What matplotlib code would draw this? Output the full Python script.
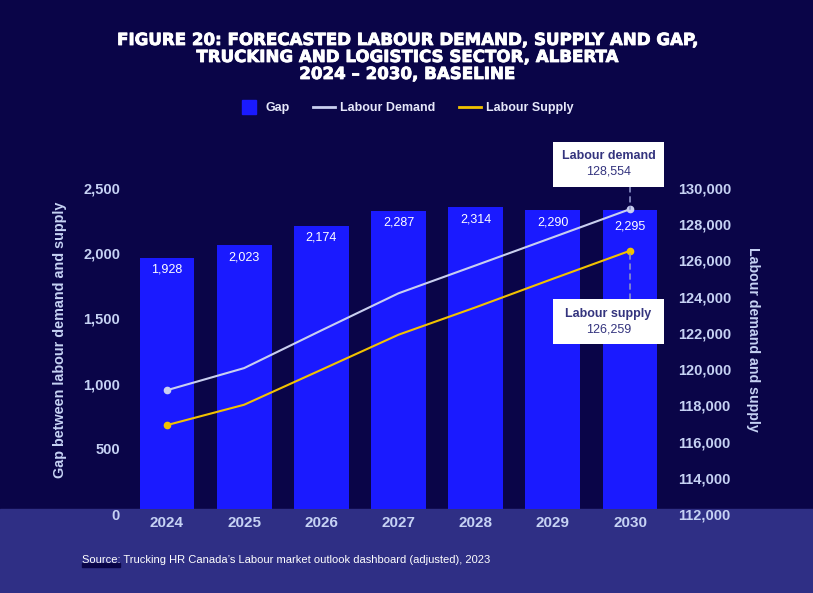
import matplotlib
matplotlib.use('Agg')
import matplotlib.pyplot as plt
import matplotlib.patheffects as pe
import numpy as np
from matplotlib.lines import Line2D
from matplotlib.patches import Rectangle
from matplotlib.transforms import ScaledTranslation, Affine2D

plt.rcParams['font.family'] = ['Liberation Sans', 'DejaVu Sans']

# data
years = ['2024', '2025', '2026', '2027', '2028', '2029', '2030']
gap = [1928, 2023, 2174, 2287, 2314, 2290, 2295]
demand = [118560, 119780, 121860, 123910, 125450, 127000, 128554]
supply = [116632, 117757, 119686, 121623, 123136, 124710, 126259]
gap_ticks = [0, 500, 1000, 1500, 2000, 2500]
ds_ticks = list(range(112000, 130001, 2000))

BG = '#0a0548'
BAND = '#2f2f85'
BAR = '#1a1aff'
DEM = '#c9cff0'
SUP = '#f2c200'
TICK = '#c6d2f4'
BOXTXT = '#34347e'

W, H = 813, 593
fig = plt.figure(figsize=(W / 100, H / 100), dpi=100, facecolor=BG)

# lighter band along the bottom
fig.add_artist(Rectangle((0, 0), 1, 1 - 509 / H, transform=fig.transFigure,
                         color=BAND, zorder=-10))

ax = fig.add_axes([128.4 / W, 1 - 509 / H, (668.6 - 128.4) / W, (509 - 183) / H])
ax.set_facecolor('none')
x = np.arange(len(years))

ax.bar(x, gap, width=0.71, color=BAR, zorder=1)
ax.set_xlim(-0.5, 6.5)
ax.set_ylim(0, 2500)
for i, v in enumerate(gap):
    off = -17 if i == len(gap) - 1 else -12
    ax.annotate(f'{v:,}', (i, v), xytext=(0, off), textcoords='offset pixels',
                ha='center', va='center', color='white', fontsize=9)

ax2 = ax.twinx()
ax2.set_ylim(112000, 130000)
ax2.plot(x, demand, color=DEM, lw=1.5, marker='o', ms=4.5, markevery=[0, len(x) - 1], zorder=3)
ax2.plot(x, supply, color=SUP, lw=1.5, marker='o', ms=4.5, markevery=[0, len(x) - 1], zorder=3)

for a in (ax, ax2):
    for s in a.spines.values():
        s.set_visible(False)
    a.tick_params(length=0, colors=TICK, labelsize=10.5)

ax.set_xticks(x)
ax.set_xticklabels(years, fontweight='bold', fontsize=11)
ax.tick_params(axis='x', pad=5)
ax.set_yticks(gap_ticks)
ax.set_yticklabels([f'{t:,}' for t in gap_ticks], fontweight='bold')
ax.tick_params(axis='y', pad=6)
ax2.set_yticks(ds_ticks)
ax2.set_yticklabels([f'{t:,}' for t in ds_ticks], fontweight='bold')
ax2.tick_params(axis='y', pad=6.5)

# the y tick labels sit a few pixels under their gridline position
shift = ScaledTranslation(0, -5 / 100, fig.dpi_scale_trans)
for lbl in ax.get_yticklabels() + ax2.get_yticklabels():
    lbl.set_transform(lbl.get_transform() + shift)

fig.text(60 / W, 1 - 340 / H, 'Gap between labour demand and supply', rotation=90,
         ha='center', va='center', color=TICK, fontsize=10.4, fontweight='bold')
fig.text(753 / W, 1 - 339 / H, 'Labour demand and supply', rotation=-90,
         ha='center', va='center', color=TICK, fontsize=10.2, fontweight='bold')


# callouts for the 2030 values (offsets in pixels from the marker)
def callout(name, val, box_dy, title_dy, num_dy, line_end):
    anchor = ScaledTranslation(x[-1], val, ax2.transData)
    bw, bh = 111.6, 45
    rect = Rectangle((-21.5 - bw / 2, box_dy - bh / 2), bw, bh, facecolor='white',
                     edgecolor='none', transform=Affine2D() + anchor, zorder=5)
    rect.set_clip_on(False)
    ax2.add_artist(rect)
    ax2.annotate('', xy=(x[-1], val), xytext=(0, line_end), textcoords='offset pixels',
                 arrowprops=dict(arrowstyle='-', color='#8c92c8', lw=1.2,
                                 linestyle=(0, (3, 3)), shrinkA=0, shrinkB=0))
    ax2.annotate(name, (x[-1], val), xytext=(-21.5, title_dy), textcoords='offset pixels',
                 ha='center', va='center', color=BOXTXT, fontsize=9, fontweight='bold',
                 zorder=6, annotation_clip=False)
    ax2.annotate(f'{val:,}', (x[-1], val), xytext=(-21.5, num_dy), textcoords='offset pixels',
                 ha='center', va='center', color=BOXTXT, fontsize=9,
                 zorder=6, annotation_clip=False)


callout('Labour demand', demand[-1], 44.8, 53.3, 38, 22.3)
callout('Labour supply', supply[-1], -70.8, -63.3, -78.3, -48.3)

handles = [Line2D([], [], marker='s', color=BAR, linestyle='none', markersize=10),
           Line2D([], [], color=DEM, lw=2),
           Line2D([], [], color=SUP, lw=2)]
fig.legend(handles, ['Gap', 'Labour Demand', 'Labour Supply'], loc='center',
           bbox_to_anchor=(406 / W, 1 - 108 / H), ncol=3, frameon=False,
           prop={'size': 9, 'weight': 'bold'}, handlelength=1.76, handletextpad=0.4,
           columnspacing=1.9, labelcolor='#e6e8fa')

title = ['FIGURE 20: FORECASTED LABOUR DEMAND, SUPPLY AND GAP,',
         'TRUCKING AND LOGISTICS SECTOR, ALBERTA',
         '2024 \u2013 2030, BASELINE']
for k, line in enumerate(title):
    fig.text(407 / W, 1 - (40 + 17 * k) / H, line, ha='center', va='center', color='white',
             fontsize=12, fontweight='bold', family='DejaVu Sans',
             path_effects=[pe.withStroke(linewidth=0.6, foreground='white')])

fig.add_artist(Rectangle((82 / W, 1 - 567.3 / H), 38 / W, 4 / H, transform=fig.transFigure,
                         color=BG, zorder=-5))
fig.text(82 / W, 1 - 560 / H,
         "Source: Trucking HR Canada\u2019s Labour market outlook dashboard (adjusted), 2023",
         ha='left', va='center', color='white', fontsize=8)

fig.savefig('out.png', dpi=100, facecolor=BG)
